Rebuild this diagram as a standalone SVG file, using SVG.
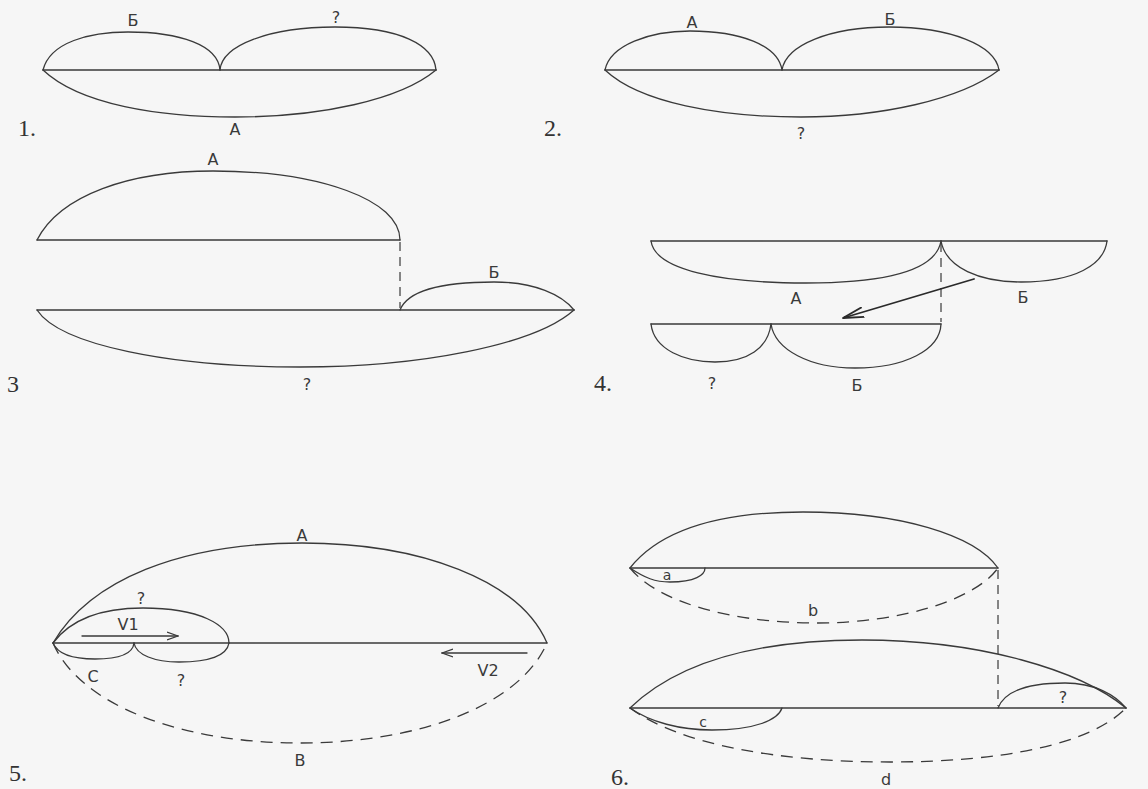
<svg xmlns="http://www.w3.org/2000/svg" width="1148" height="789" viewBox="0 0 1148 789">
<style>
.l{fill:none;stroke:#3a3a3a;stroke-width:1.3;stroke-linecap:round}
.d{fill:none;stroke:#3a3a3a;stroke-width:1.3;stroke-dasharray:12 8}
.dv{fill:none;stroke:#3a3a3a;stroke-width:1.2;stroke-dasharray:9 6}
.t{font-family:"DejaVu Sans","Liberation Sans",sans-serif;font-size:16px;fill:#3a3a3a;text-anchor:middle}
.ts{font-family:"DejaVu Sans","Liberation Sans",sans-serif;font-size:14px;fill:#3a3a3a;text-anchor:middle}
.n{font-family:"Liberation Serif","Times New Roman",serif;font-size:24px;fill:#333}
</style>
<defs>
<marker id="open" viewBox="0 0 12 10" refX="11" refY="5" markerWidth="12" markerHeight="10" markerUnits="userSpaceOnUse" orient="auto">
<path d="M0,1 L11,5 L0,9" fill="none" stroke="#3a3a3a" stroke-width="1.3"/>
</marker>
<marker id="open2" viewBox="0 0 22 12" refX="21" refY="6" markerWidth="22" markerHeight="12" markerUnits="userSpaceOnUse" orient="auto">
<path d="M0,1 L21,6 L0,11" fill="none" stroke="#2a2a2a" stroke-width="1.8"/>
</marker>
</defs>
<rect width="1148" height="789" fill="#f6f6f6"/>

<g id="panel1">
<path class="l" d="M43,70 L436,70"/>
<path class="l" d="M43,70 C50,42 90,32 128,32 C180,32 218,45 220,70"/>
<path class="l" d="M220,70 C222,45 270,27 335,27 C400,27 434,45 436,70"/>
<path class="l" d="M43,70 C80,105 160,117 235,117 C320,117 400,100 436,70"/>
<text class="t" x="133" y="26">Б</text>
<text class="t" x="336" y="23">?</text>
<text class="t" x="235" y="135">А</text>
<text class="n" x="18" y="136">1.</text>
</g>

<g id="panel2">
<path class="l" d="M605,70 L999,70"/>
<path class="l" d="M605,70 C610,45 650,31 690,31 C740,31 778,45 782,70"/>
<path class="l" d="M782,70 C786,45 830,27 889,27 C950,27 995,45 999,70"/>
<path class="l" d="M605,70 C640,103 720,117 801,117 C880,117 960,100 999,70"/>
<text class="t" x="692" y="28">А</text>
<text class="t" x="890" y="25">Б</text>
<text class="t" x="801" y="139">?</text>
<text class="n" x="544" y="136">2.</text>
</g>

<g id="panel3">
<path class="l" d="M37,240 L400,240"/>
<path class="l" d="M37,240 C60,195 130,171 213,171 C320,171 400,200 400,240"/>
<path class="l" d="M37,310 L574,310"/>
<path class="l" d="M400,310 C408,290 445,282 494,282 C535,282 562,295 574,310"/>
<path class="l" d="M37,310 C60,345 170,367 300,367 C420,367 535,345 574,310"/>
<path class="dv" d="M400,242 L400,308"/>
<text class="t" x="213" y="165">А</text>
<text class="t" x="494" y="278">Б</text>
<text class="t" x="307" y="390">?</text>
<text class="n" x="7" y="392">3</text>
</g>

<g id="panel4">
<path class="l" d="M651,241 L1107,241"/>
<path class="l" d="M651,241 C655,270 720,283 806,283 C890,283 936,270 941,241"/>
<path class="l" d="M941,241 C946,268 980,282 1021,282 C1075,282 1104,265 1107,241"/>
<path class="l" d="M651,324 L941,324"/>
<path class="l" d="M651,324 C654,350 685,362 715,362 C748,362 768,348 771,324"/>
<path class="l" d="M771,324 C775,350 810,368 855,368 C905,368 940,350 941,324"/>
<path class="dv" d="M941,243 L941,322"/>
<text class="t" x="796" y="304">А</text>
<text class="t" x="1023" y="303">Б</text>
<text class="t" x="712" y="389">?</text>
<text class="t" x="857" y="391">Б</text>
<text class="n" x="594" y="391">4.</text>
</g>

<g id="panel5">
<path class="l" d="M53,643 L547,643"/>
<path class="l" d="M53,643 C90,580 180,543 302,543 C420,543 520,580 547,643"/>
<path class="l" d="M53,643 C70,620 100,608 143,608 C200,608 229,625 229,643"/>
<path class="l" d="M53,643 C58,655 75,659 95,659 C120,659 133,653 134,643"/>
<path class="l" d="M134,643 C136,655 155,662 179,662 C210,662 227,655 229,643"/>
<path class="d" d="M53,643 C80,705 180,743 300,743 C420,743 520,705 547,643"/>
<text class="t" x="302" y="541">А</text>
<text class="t" x="141" y="604">?</text>
<text class="t" x="128" y="630">V1</text>
<text class="t" x="93" y="682">С</text>
<text class="t" x="181" y="686">?</text>
<text class="t" x="488" y="676">V2</text>
<text class="t" x="300" y="766">В</text>
<text class="n" x="9" y="781">5.</text>
</g>

<g id="panel6">
<path class="l" d="M630,568 L998,568"/>
<path class="l" d="M630,568 C660,530 720,512 803,512 C900,512 975,535 998,568"/>
<path class="l" d="M630,568 C645,578 655,582 670,582 C695,582 705,575 705,568"/>
<path class="d" d="M630,568 C660,605 740,623 817,623 C900,623 975,600 998,568"/>
<path class="dv" d="M998,570 L998,706"/>
<path class="l" d="M630,708 L1126,708"/>
<path class="l" d="M630,708 C680,660 760,640 862,640 C980,640 1080,670 1126,708"/>
<path class="l" d="M998,708 C1005,690 1030,683 1065,683 C1095,683 1115,695 1126,708"/>
<path class="l" d="M630,708 C650,722 680,730 712,730 C755,730 778,720 782,708"/>
<path class="d" d="M630,708 C680,745 780,762 890,762 C1000,762 1090,745 1126,708"/>
<text class="ts" x="667" y="580">а</text>
<text class="t" x="813" y="616">b</text>
<text class="t" x="1063" y="703">?</text>
<text class="ts" x="703" y="727">с</text>
<text class="t" x="886" y="785">d</text>
<text class="n" x="611" y="785">6.</text>
</g>

<g id="connectors">
<path class="l" d="M974,279 L843,318" marker-end="url(#open2)" style="stroke-width:1.8;stroke:#2a2a2a"/>
<path class="l" d="M82,636 L178,636" marker-end="url(#open)"/>
<path class="l" d="M527,653 L442,653" marker-end="url(#open)"/>
</g>
</svg>
